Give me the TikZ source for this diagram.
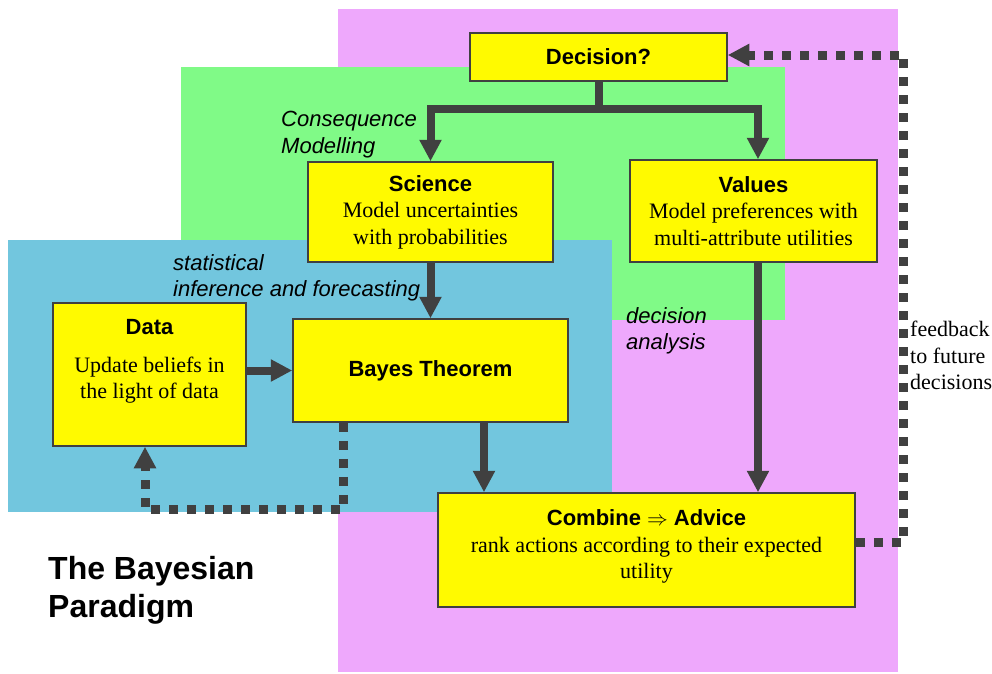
\documentclass[tikz,border=0pt]{standalone}
\usepackage{fontspec}
\setmainfont{Liberation Serif}
\setsansfont{Liberation Sans}
\usetikzlibrary{arrows.meta,positioning,calc}
\definecolor{zonepink}{HTML}{EEA8FC}
\definecolor{zonegreen}{HTML}{80FA87}
\definecolor{zoneblue}{HTML}{72C6DE}
\definecolor{boxyellow}{HTML}{FFFA00}
\definecolor{inkgray}{HTML}{404040}
\newcommand{\boxtitle}{\sffamily\bfseries}
\tikzset{
  ybox/.style={draw=inkgray,fill=boxyellow,line width=1.5pt,inner sep=0pt,font=\fontsize{22}{26.5}\selectfont},
  fatarrow/.style={-{Triangle[width=21pt,length=21.5pt]},line width=8pt,draw=inkgray},
  dotarrow/.style={-{Triangle[width=21pt,length=21.5pt]},line width=9pt,draw=inkgray,dash pattern=on 9pt off 9pt},
  zonelabel/.style={inner sep=0pt,align=left,font=\fontsize{22}{26.5}\selectfont\sffamily\itshape}
}

\begin{document}
\begin{tikzpicture}[x=1pt,y=-1pt]
  \useasboundingbox (0,0) rectangle (992,673);
  % coloured zones
  \fill[zonepink] (338,9) rectangle (898,672);
  \fill[zonegreen] (181,67) rectangle (785,320);
  \fill[zoneblue] (8,240) rectangle (612,512);

  % boxes
  \node[ybox] (decision) at (598.5,57) {\parbox[c][48pt][c]{257pt}{\centering\boxtitle Decision?}};
  \node[ybox] (science) at (430.5,212) {\parbox[c][100pt][c]{245pt}{\centering{\boxtitle Science}\\Model uncertainties\\with probabilities}};
  \node[ybox] (values) at (753.5,211) {\parbox[c][102pt][c]{247pt}{\centering{\boxtitle Values}\\Model preferences with\\multi-attribute utilities}};
  \node[ybox] (data) at (149.5,374.5) {\parbox[c][143pt][t]{193pt}{\centering\vspace*{16pt}{\boxtitle Data}\\[11.5pt]Update beliefs in\\the light of data}};
  \node[ybox] (bayes) at (430.5,370.5) {\parbox[c][103pt][c]{275pt}{\centering\boxtitle Bayes Theorem}};
  \node[ybox] (combine) at (646.5,550) {\parbox[c][114pt][t]{417pt}{\centering\vspace*{17pt}{\boxtitle Combine $\Rightarrow$ Advice}\\rank actions according to their expected\\utility}};

  % labels
  \node[zonelabel,anchor=north west] (conslabel) at (281,111) {Consequence\\Modelling};
  \node[zonelabel,anchor=north west] (statlabel) at (173,254) {statistical\\inference and forecasting};
  \node[zonelabel,anchor=north west] (dalabel) at (626,307) {decision\\analysis};
  \node[anchor=north west,inner sep=0pt,align=left,font=\fontsize{22}{26.5}\selectfont] (feedback) at (910,321) {feedback\\to future\\decisions};
  \node[anchor=north west,inner sep=0pt,align=left,font=\fontsize{32}{38}\selectfont\sffamily\bfseries] (paradigm) at (48,556) {The Bayesian\\Paradigm};

  % connectors
  \coordinate (bayesout) at ([xshift=53.5pt]bayes.south);
  \coordinate (valuesout) at ([xshift=4.5pt]values.south);
  \draw[fatarrow] (decision.south) -- ++(0,27) -| (science.north);
  \draw[fatarrow] (decision.south) -- ++(0,27) -| ([xshift=4.5pt]values.north);
  \draw[fatarrow] (science) -- (bayes);
  \draw[fatarrow] (data.east |- bayes.west) -- (bayes.west);
  \draw[fatarrow] (bayesout) -- (bayesout |- combine.north);
  \draw[fatarrow] (valuesout) -- (valuesout |- combine.north);
  \draw[dotarrow] ([xshift=-87.5pt]bayes.south) -- ++(0,87) -| ([xshift=-4.5pt]data.south);
  \draw[dotarrow] ([yshift=8pt]combine.east) -- ++(48,0) |- ([yshift=2pt]decision.east);
\end{tikzpicture}
\end{document}
